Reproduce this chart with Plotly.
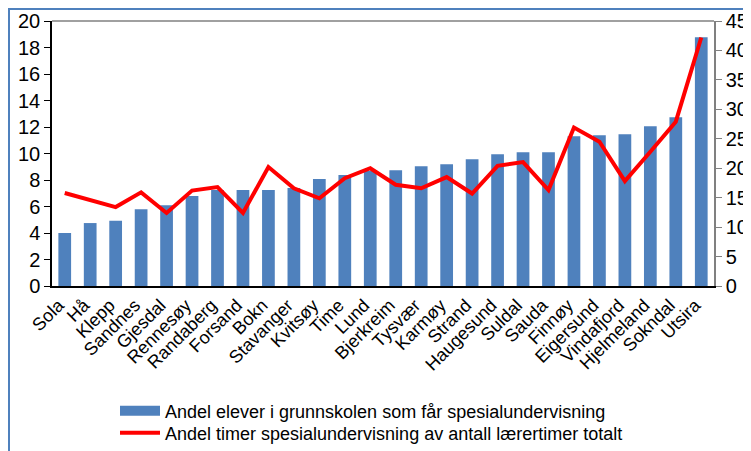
import plotly.graph_objects as go

categories = ["Sola", "Hå", "Klepp", "Sandnes", "Gjesdal", "Rennesøy", "Randaberg", "Forsand",
              "Bokn", "Stavanger", "Kvitsøy", "Time", "Lund", "Bjerkreim", "Tysvær", "Karmøy",
              "Strand", "Haugesund", "Suldal", "Sauda", "Finnøy", "Eigersund", "Vindafjord",
              "Hjelmeland", "Sokndal", "Utsira"]
andel_elever = [4.0, 4.75, 4.93, 5.8, 6.1, 6.79, 7.25, 7.25, 7.25, 7.4, 8.07, 8.38, 8.7, 8.73,
                9.03, 9.18, 9.56, 9.94, 10.09, 10.09, 11.3, 11.37, 11.45, 12.05, 12.73, 18.77]
andel_timer = [15.8, 14.6, 13.4, 15.9, 12.4, 16.2, 16.8, 12.4, 20.2, 16.6, 14.9, 18.3, 20.0, 17.2,
               16.6, 18.5, 15.7, 20.4, 21.05, 16.3, 26.9, 24.5, 17.8, 22.8, 27.9, 42.2]
left_ticks = list(range(0, 21, 2))
right_ticks = list(range(0, 46, 5))
name_bar = "Andel elever i grunnskolen som får spesialundervisning"
name_line = "Andel timer spesialundervisning av antall lærertimer totalt"

W, H = 751, 451
ML, MR, MT, MB = 44, 45, 13, 173
PW, PH = W - ML - MR, H - MT - MB

def px_x(x):
    return (x - ML) / PW

def px_y(y):
    return (H - MB - y) / PH

FONT = "Liberation Sans, Arial, sans-serif"
BLUE = "#4F81BD"

fig = go.Figure()
fig.add_trace(go.Bar(
    x=categories, y=andel_elever, name=name_bar,
    marker=dict(color=BLUE, line=dict(width=0)),
    yaxis="y", showlegend=False, legendgroup="bar",
))
# legend entry for the bars (wide rectangle symbol like the reference)
fig.add_trace(go.Scatter(
    x=[categories[0]], y=[None], name=name_bar, mode="lines",
    line=dict(color=BLUE, width=10), legend="legend", legendgroup="bar",
    hoverinfo="skip",
))
fig.add_trace(go.Scatter(
    x=categories, y=andel_timer, name=name_line, mode="lines",
    line=dict(color="#FF0000", width=4), yaxis="y2", legend="legend2",
))

legend_common = dict(
    xanchor="left", yanchor="middle", orientation="v",
    font=dict(size=18, family=FONT, color="black"),
    bgcolor="rgba(0,0,0,0)", itemwidth=40,
)

fig.update_layout(
    width=W, height=H,
    margin=dict(l=ML, r=MR, t=MT, b=MB, autoexpand=False),
    paper_bgcolor="white", plot_bgcolor="white",
    font=dict(family=FONT, color="black"),
    bargap=0.5,
    showlegend=True,
    legend=dict(x=px_x(107), y=px_y(403), **legend_common),
    legend2=dict(x=px_x(107), y=px_y(425), **legend_common),
    xaxis=dict(
        tickangle=-45, tickfont=dict(size=18),
        showline=True, linecolor="black", linewidth=1.5,
        ticks="", showgrid=False, zeroline=False,
        range=[-0.5, len(categories) - 0.5],
        ticklabelshift=-6,
    ),
    yaxis=dict(
        range=[0, 20], tickvals=left_ticks, ticktext=[str(v) for v in left_ticks],
        tickfont=dict(size=20),
        showline=True, linecolor="black", linewidth=1.5,
        ticks="outside", ticklen=6, tickcolor="black", tickwidth=1,
        showgrid=False, zeroline=False,
    ),
    yaxis2=dict(
        range=[0, 45], tickvals=right_ticks, ticktext=[str(v) for v in right_ticks],
        tickfont=dict(size=20),
        overlaying="y", side="right",
        showline=True, linecolor="#808080", linewidth=1.5,
        ticks="outside", ticklen=6, tickcolor="#808080", tickwidth=1,
        showgrid=False, zeroline=False,
    ),
    shapes=[
        dict(type="line", xref="paper", yref="paper", x0=0, x1=1, y0=1, y1=1,
             line=dict(color="#808080", width=1.5)),
        dict(type="rect", xref="paper", yref="paper",
             x0=px_x(1), x1=px_x(W - 1), y0=px_y(H - 1), y1=px_y(1),
             line=dict(color=BLUE, width=2), fillcolor="rgba(0,0,0,0)", layer="above"),
    ],
)

fig.write_html("out.html")
